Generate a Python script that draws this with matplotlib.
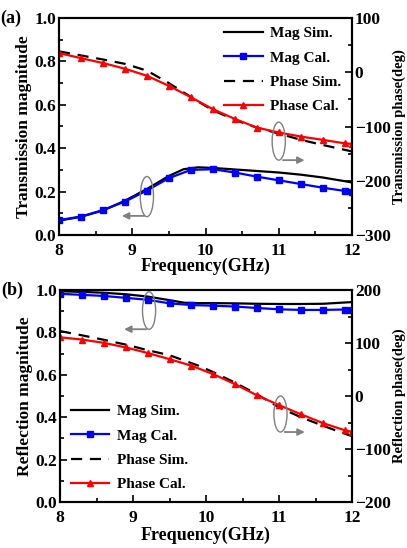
import numpy as np
import matplotlib.pyplot as plt
from matplotlib.patches import Ellipse

plt.rcParams['font.family'] = ['Liberation Serif', 'DejaVu Serif']
plt.rcParams['font.weight'] = 'bold'
plt.rcParams['axes.labelweight'] = 'bold'

# marker frequencies for the calculated curves
f_cal = [8.0, 8.3, 8.6, 8.9, 9.2, 9.5, 9.8, 10.1, 10.4, 10.7, 11.0, 11.3, 11.6, 11.9, 12.0]
# simulated curve frequencies
f_sim = [8.0, 8.3, 8.6, 8.9, 9.2, 9.5, 9.7, 9.9, 10.1, 10.4, 10.7, 11.0, 11.3, 11.6, 11.9, 12.0]

# (a) transmission
t_mag_cal = [0.069, 0.085, 0.115, 0.154, 0.205, 0.262, 0.300, 0.303, 0.288, 0.269, 0.252, 0.235, 0.218, 0.203, 0.200]
t_mag_sim = [0.066, 0.084, 0.113, 0.158, 0.212, 0.272, 0.303, 0.312, 0.309, 0.302, 0.295, 0.288, 0.278, 0.265, 0.248, 0.242]
t_ph_cal = [35.4, 26.0, 17.0, 6.5, -6.5, -25.0, -46.0, -68.0, -86.0, -102.0, -111.0, -118.5, -124.6, -131.0, -132.0]
t_ph_sim = [38.5, 31.0, 23.5, 15.5, 3.0, -20.0, -37.0, -54.0, -70.0, -88.0, -102.0, -113.0, -124.5, -134.0, -143.0, -146.0]

# (b) reflection
r_mag_cal = [0.982, 0.977, 0.972, 0.963, 0.954, 0.937, 0.929, 0.926, 0.922, 0.915, 0.909, 0.906, 0.906, 0.908, 0.908]
r_mag_sim = [0.994, 0.991, 0.987, 0.980, 0.969, 0.952, 0.940, 0.938, 0.938, 0.937, 0.935, 0.934, 0.934, 0.935, 0.941, 0.943]
r_ph_cal = [110.8, 106.5, 100.3, 91.7, 81.2, 69.5, 57.2, 41.2, 22.2, 1.2, -17.2, -34.5, -51.0, -64.6, -67.7]
r_ph_sim = [122.5, 114.5, 106.0, 97.0, 86.5, 76.9, 67.0, 57.0, 45.0, 25.0, 3.0, -21.5, -40.0, -56.0, -71.0, -75.7]

fig = plt.figure(figsize=(4.07, 5.48), dpi=100)
W, H = 407, 548
panels = [
    dict(rect=[59 / W, 1 - 235 / H, 293 / W, 217 / H], tag='(a)', xpad=6, xlp=-1,
         mag_sim=t_mag_sim, mag_cal=t_mag_cal, ph_sim=t_ph_sim, ph_cal=t_ph_cal,
         ylab='Transmission magnitude', y2lab='Transmission phase(deg)',
         y2lim=(-300, 100), legend='upper right', anchor=(1.0, 1.01),
         ell1=(9.2, 0.177, 0.18, 0.185), arr1=((9.2, 0.088), (8.82, 0.088)),
         ell2=(11.0, -127, 0.18, 70), arr2=((11.02, -162), (11.39, -162))),
    dict(rect=[60 / W, 1 - 502 / H, 292 / W, 212 / H], tag='(b)', xpad=6, xlp=0,
         mag_sim=r_mag_sim, mag_cal=r_mag_cal, ph_sim=r_ph_sim, ph_cal=r_ph_cal,
         ylab='Reflection magnitude', y2lab='Reflection phase(deg)',
         y2lim=(-200, 200), legend='lower left', anchor=(0.0, 0.0),
         ell1=(9.22, 0.903, 0.18, 0.177), arr1=((9.22, 0.815), (8.84, 0.815)),
         ell2=(11.02, -34, 0.18, 68), arr2=((11.04, -68), (11.39, -68))),
]

for p in panels:
    ax = fig.add_axes(p['rect'])
    ax2 = ax.twinx()
    l1, = ax.plot(f_sim, p['mag_sim'], color='black', lw=1.6, label='Mag Sim.')
    l2, = ax.plot(f_cal, p['mag_cal'], color='blue', lw=1.6, marker='s', ms=4.5, label='Mag Cal.')
    l3, = ax2.plot(f_sim, p['ph_sim'], color='black', lw=1.6, ls=(0, (5, 3.5)), label='Phase Sim.')
    l4, = ax2.plot(f_cal, p['ph_cal'], color='red', lw=1.6, marker='^', ms=5, label='Phase Cal.')

    ax.set_xlim(8, 12)
    ax.set_ylim(0, 1.0)
    ax2.set_ylim(*p['y2lim'])
    ax.set_xticks([8, 9, 10, 11, 12])
    ax.set_xticks(np.arange(8.5, 12, 1), minor=True)
    ax.set_yticks(np.arange(0, 1.01, 0.2))
    ax.set_yticks(np.arange(0.1, 1, 0.2), minor=True)
    ax.set_yticklabels(['%.1f' % v for v in np.arange(0, 1.01, 0.2)])
    lo, hi = p['y2lim']
    ax2.set_yticks(np.arange(lo, hi + 1, 100))
    ax2.set_yticks(np.arange(lo + 50, hi, 100), minor=True)
    for a in (ax, ax2):
        a.tick_params(which='both', direction='in', labelsize=12.5, width=1.2)
        a.tick_params(which='major', length=5)
        a.tick_params(which='minor', length=3)
        for s in a.spines.values():
            s.set_linewidth(1.5)
    ax.tick_params(axis='x', pad=p['xpad'])
    ax.tick_params(axis='y', pad=2)
    ax2.tick_params(axis='y', pad=2)
    ax.set_xlabel('Frequency(GHz)', fontsize=13, labelpad=p['xlp'])
    ax.set_ylabel(p['ylab'], fontsize=12.5, labelpad=2)
    ax2.set_ylabel(p['y2lab'], fontsize=10.5, labelpad=1)

    ax.text(-0.2, 1.0, p['tag'], transform=ax.transAxes, fontsize=13,
            fontweight='bold', va='center', ha='left')

    ex, ey, ew, eh = p['ell1']
    ax.add_patch(Ellipse((ex, ey), ew, eh, fill=False, ec='gray', lw=1.0, zorder=5))
    ax.annotate('', xy=p['arr1'][1], xytext=p['arr1'][0],
                arrowprops=dict(arrowstyle='-|>', color='gray', lw=1.3, mutation_scale=10))
    ex, ey, ew, eh = p['ell2']
    ax2.add_patch(Ellipse((ex, ey), ew, eh, fill=False, ec='gray', lw=1.0, zorder=5))
    ax2.annotate('', xy=p['arr2'][1], xytext=p['arr2'][0],
                 arrowprops=dict(arrowstyle='-|>', color='gray', lw=1.3, mutation_scale=10))

    leg = ax2.legend(handles=[l1, l2, l3, l4], loc=p['legend'], bbox_to_anchor=p['anchor'],
                     frameon=False, handlelength=2.5, handletextpad=0.5, labelspacing=0.7,
                     borderaxespad=0.3, prop={'weight': 'bold', 'size': 11})

fig.savefig('out.png', dpi=100)
